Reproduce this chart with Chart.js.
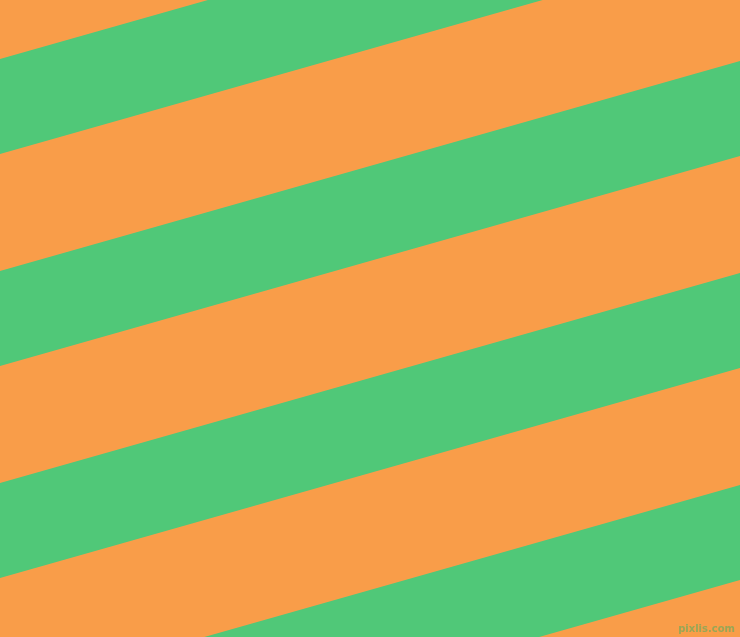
<!DOCTYPE html>
<html>
<head>
<meta charset="utf-8">
<script src="https://cdn.jsdelivr.net/npm/chart.js@4/dist/chart.umd.min.js"></script>
<style>
    html, body { margin: 0; padding: 0; background: #F99D49; }
    #wrap { position: relative; width: 740px; height: 637px; overflow: hidden; }
    #stripes { display: block; background: #F99D49; }
    #mark {
        position: absolute; right: 5px; bottom: 3px;
        font-family: "DejaVu Sans", sans-serif; font-size: 10px; font-weight: bold;
        color: rgba(120, 170, 90, 0.75);
    }
</style>
</head>
<body>
<div id="wrap">
    <canvas id="stripes" width="740" height="637"></canvas>
    <div id="mark">pixlis.com</div>
</div>
<script>
// Stripe edges: y value where each green band meets the left edge (x = 0)
const xEdges = [0, 740];
const stripeTop = [59, 271, 483, 695];
const stripeBottom = [154, 366, 578, 790];
// how much each edge climbs from left to right across the full width
const rise = 210;

const GREEN = '#50C878';

function edgeLine(yLeft) {
    return [
        { x: xEdges[0], y: yLeft },
        { x: xEdges[1], y: yLeft - rise }
    ];
}

const datasets = [];
stripeTop.forEach((top, i) => {
    datasets.push({
        data: edgeLine(top),
        showLine: true,
        borderWidth: 0,
        pointRadius: 0,
        fill: false
    });
    datasets.push({
        data: edgeLine(stripeBottom[i]),
        showLine: true,
        borderWidth: 0,
        pointRadius: 0,
        backgroundColor: GREEN,
        fill: '-1'
    });
});

new Chart(document.getElementById('stripes'), {
    type: 'scatter',
    data: { datasets },
    options: {
        responsive: false,
        animation: false,
        layout: { padding: 0 },
        scales: {
            x: { type: 'linear', min: 0, max: 740, display: false },
            y: { type: 'linear', min: 0, max: 637, reverse: true, display: false }
        },
        plugins: {
            legend: { display: false },
            tooltip: { enabled: false }
        }
    }
});
</script>
</body>
</html>
